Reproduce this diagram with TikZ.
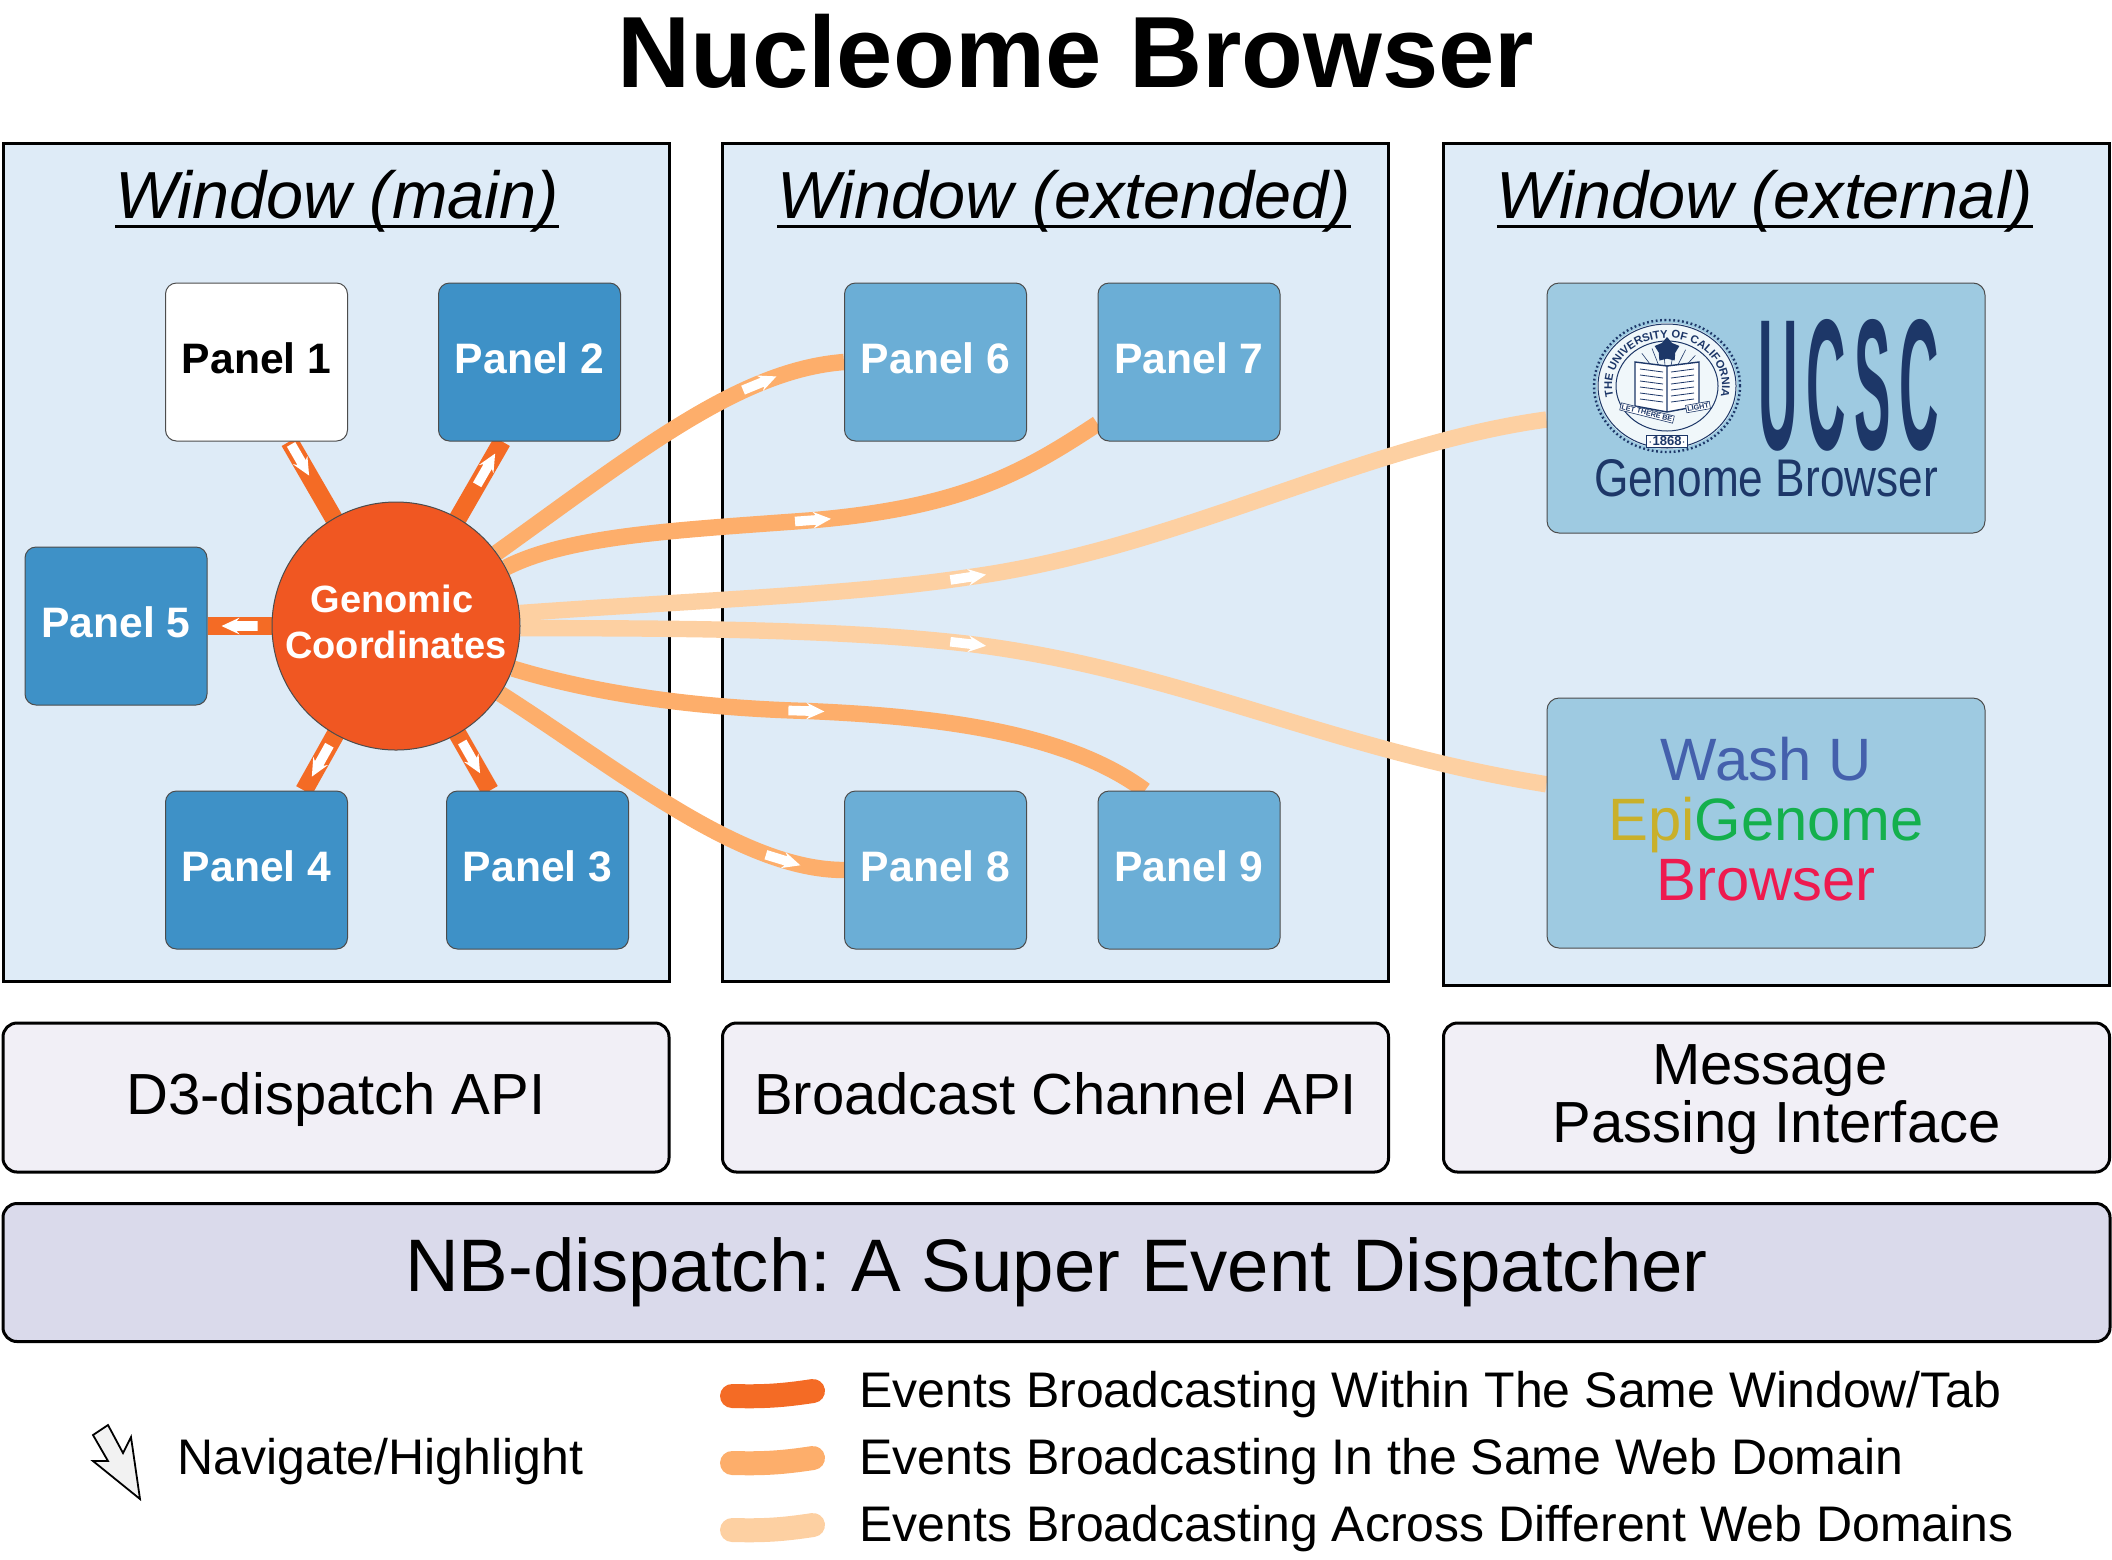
\documentclass[tikz,border=0pt]{standalone}
\usepackage{fontspec}
\usepackage{graphicx}
\setmainfont{Liberation Sans}
\usetikzlibrary{shapes.geometric,backgrounds,calc,decorations.text}

\definecolor{winblue}{HTML}{DEEBF7}
\definecolor{paneldark}{HTML}{3E91C7}
\definecolor{panelmid}{HTML}{6BAED6}
\definecolor{panellight}{HTML}{9ECAE1}
\definecolor{hubred}{HTML}{F05722}
\definecolor{flowdark}{HTML}{F46B25}
\definecolor{flowmid}{HTML}{FDAE6B}
\definecolor{flowlight}{HTML}{FDD0A2}
\definecolor{apibox}{HTML}{F1EFF6}
\definecolor{nbbox}{HTML}{DADAEB}
\definecolor{ucscblue}{HTML}{1D3768}

\newlength{\winlinewd}
\newcommand{\winlabel}[1]{\settowidth{\winlinewd}{#1}\rlap{\rule[-4.8pt]{\winlinewd}{1.2pt}}#1}
\frenchspacing

\begin{document}
\begin{tikzpicture}[x=0.5pt,y=-0.5pt,
            window/.style={rectangle,draw=black,line width=1.5pt,fill=winblue,
              minimum width=333pt,inner sep=0pt},
            wintitle/.style={inner sep=0pt,font=\fontsize{33.3}{36}\selectfont\itshape},
            panel/.style={rectangle,rounded corners=5.5pt,draw=black!70,line width=0.5pt,
              minimum width=91pt,minimum height=79pt,inner sep=0pt,text depth=4pt,text=white,
              font=\fontsize{21.3}{24}\selectfont\bfseries},
            browserbox/.style={rectangle,rounded corners=6pt,draw=black!70,line width=0.5pt,
              fill=panellight,minimum width=219pt,inner sep=0pt},
            apinode/.style={rectangle,rounded corners=7pt,draw=black,line width=1.5pt,fill=apibox,
              minimum width=333pt,minimum height=74.5pt,inner sep=0pt,
              font=\fontsize{29}{29}\selectfont},
            legendtext/.style={anchor=west,inner sep=0pt,font=\fontsize{25}{28}\selectfont},
            spoke/.style={flowdark,line width=9pt},
            midflow/.style={flowmid,line width=8.2pt},
            farflow/.style={flowlight,line width=8.2pt},
            swatch/.style={line width=12pt,line cap=round},
            markat/.style={pos=#1,sloped,allow upside down},
            flowmark/.pic={
              \fill[white] (-9pt,-2.4pt) -- (1.5pt,-2.4pt) -- (0pt,-4.2pt) -- (9pt,0pt)
                -- (0pt,4.2pt) -- (1.5pt,2.4pt) -- (-9pt,2.4pt) -- cycle;
            }]
 \useasboundingbox (0,0) rectangle (2112,1559);

 \node[inner sep=0pt,font=\fontsize{50.6}{54}\selectfont\bfseries] (title) at (1076,51) {Nucleome Browser};

 % windows
 \begin{scope}[on background layer]
   \node[window,minimum height=419pt] (winmain) at (336,562) {};
   \node[window,minimum height=419pt] (winext) at (1055.5,562) {};
   \node[window,minimum height=421pt] (winout) at (1776.5,564) {};
 \end{scope}
 \node[wintitle] (titlemain) at (337,201) {\winlabel{Window (main)}};
 \node[wintitle] (titleext) at (1064,201) {\winlabel{Window (extended)}};
 \node[wintitle] (titleout) at (1765,201) {\winlabel{Window (external)}};

 % panels
 \node[panel,fill=white,text=black] (panel1) at (256.5,362) {Panel 1};
 \node[panel,fill=paneldark] (panel2) at (529.5,362) {Panel 2};
 \node[panel,fill=paneldark] (panel3) at (537.5,870) {Panel 3};
 \node[panel,fill=paneldark] (panel4) at (256.5,870) {Panel 4};
 \node[panel,fill=paneldark] (panel5) at (116,626) {Panel 5};
 \node[panel,fill=panelmid] (panel6) at (935.5,362) {Panel 6};
 \node[panel,fill=panelmid] (panel7) at (1189,362) {Panel 7};
 \node[panel,fill=panelmid] (panel8) at (935.5,870) {Panel 8};
 \node[panel,fill=panelmid] (panel9) at (1189,870) {Panel 9};

 \node[circle,draw=black!70,line width=0.5pt,fill=hubred,minimum size=124pt,inner sep=0pt,
   text=white,align=center,font=\fontsize{19}{23}\selectfont\bfseries] (hub) at (396,626)
   {Genomic\hspace*{4pt}\\Coordinates\\[-19pt]\mbox{}};

 % browsers
 \node[browserbox,minimum height=125pt] (ucsc) at (1766,408) {};
 \node[inner sep=0pt,text=ucscblue] (ucscname) at (1848.5,385)
   {\resizebox{90.5pt}{65pt}{\bfseries U\hspace{.16em}C\hspace{.16em}S\hspace{.16em}C}};
 \node[inner sep=0pt,text=ucscblue] (ucscsub) at (1766,478)
   {\resizebox{172pt}{18.5pt}{Genome Browser}};

 % seal
 \begin{scope}[shift={(1667,386)},y=0.5pt]
   \fill[white!85!panellight] (0,0) ellipse [x radius=70,y radius=63];
   \draw[ucscblue,line width=1.2pt,dash pattern=on 0.9pt off 1.3pt] (0,0) ellipse [x radius=73,y radius=66];
   \draw[ucscblue,line width=0.5pt] (0,0) ellipse [x radius=69,y radius=62];
   \draw[ucscblue,line width=0.5pt] (0,0) ellipse [x radius=51,y radius=45];
   \path[decorate,decoration={text along path,text align=center,
       text={|\fontsize{5.6}{6}\selectfont\bfseries\color{ucscblue}|THE UNIVERSITY OF CALIFORNIA}}]
     (228:55 and 48) arc [start angle=228,end angle=-48,x radius=55,y radius=48];
   \foreach \ang in {50,65,...,130} \draw[ucscblue,line width=0.3pt] (\ang:20 and 18) -- (\ang:44 and 40);
   \node[star,star points=5,fill=ucscblue,inner sep=0pt,minimum size=13pt] (sealstar) at (0,36) {};
   \fill[white] (-32,24) -- (0,20) -- (32,24) -- (32,-20) -- (0,-26) -- (-32,-20) -- cycle;
   \draw[ucscblue,line width=0.7pt] (-32,24) -- (0,20) -- (32,24) -- (32,-20) -- (0,-26) -- (-32,-20) -- cycle (0,20) -- (0,-26);
   \foreach \row in {14,8,...,-16} {
     \draw[ucscblue,line width=0.4pt] (-27,\row+3) -- (-4,\row);
     \draw[ucscblue,line width=0.4pt] (4,\row) -- (27,\row+3);
   }
   \node[fill=white,draw=ucscblue,line width=0.3pt,inner sep=0.6pt,rotate=-14,text=ucscblue,
     font=\fontsize{3.6}{4}\selectfont\bfseries] (sealbannerl) at (-20,-27) {LET THERE BE};
   \node[fill=white,draw=ucscblue,line width=0.3pt,inner sep=0.6pt,rotate=10,text=ucscblue,
     font=\fontsize{3.6}{4}\selectfont\bfseries] (sealbannerr) at (31,-21) {LIGHT};
   \node[fill=white,draw=ucscblue,line width=0.3pt,inner sep=0.8pt,text=ucscblue,
     font=\fontsize{6.5}{7}\selectfont\bfseries] (sealyear) at (0,-55) {$\cdot$1868$\cdot$};
 \end{scope}

 \node[browserbox,minimum height=125pt,align=center,font=\fontsize{29.9}{30}\selectfont] (washu) at (1766,823)
   {\textcolor[HTML]{4460AC}{Wash U}\\\textcolor[HTML]{C9B02A}{Epi}\textcolor[HTML]{14B04C}{Genome}\\\textcolor[HTML]{EE1A4F}{Browser}\\[-26pt]\mbox{}};

 % flows
 \begin{scope}[on background layer]
   \draw[spoke] ($(panel1.south west)!.68!(panel1.south east)$) -- (hub.center) pic[markat=.1] {flowmark};
   \draw[spoke] (hub.center) -- ($(panel2.south west)!.35!(panel2.south east)$) pic[markat=.85] {flowmark};
   \draw[spoke] (hub.center) -- ($(panel3.north west)!.24!(panel3.north east)$) pic[markat=.8] {flowmark};
   \draw[spoke] (hub.center) -- ($(panel4.north west)!.76!(panel4.north east)$) pic[markat=.82] {flowmark};
   \draw[spoke] (hub.center) -- (panel5.east) pic[markat=.83] {flowmark};

   \draw[midflow] (hub.36) .. controls (640,450) and (740,370) .. (panel6.west) pic[markat=.73] {flowmark};
   \draw[midflow] (hub.28) .. controls (570,535) and (680,530) .. (815,520) pic[markat=.995] {flowmark}
     .. controls (960,507) and (1020,475) .. (panel7.214);
   \draw[farflow] (hub.6) .. controls (700,600) and (850,595) .. (970,577) pic[markat=.995] {flowmark}
     .. controls (1180,548) and (1360,445) .. (ucsc.183);
   \draw[farflow] (hub.-1) .. controls (700,628) and (850,630) .. (970,644) pic[markat=.995] {flowmark}
     .. controls (1180,670) and (1330,750) .. (washu.170);
   \draw[midflow] (hub.-20) .. controls (600,695) and (700,708) .. (808,711) pic[markat=.995] {flowmark}
     .. controls (950,717) and (1070,735) .. (panel9.119);
   \draw[midflow] (hub.-33) .. controls (620,770) and (740,870) .. (panel8.west) pic[markat=.81] {flowmark};
 \end{scope}

 % api boxes
 \node[apinode,text height=22.3pt,text depth=5.5pt] (apimain) at (336,1097.5) {D3-dispatch API};
 \node[apinode,text height=22.3pt,text depth=5.5pt] (apiext) at (1055.5,1097.5) {Broadcast Channel API};
 \node[apinode,align=center] (apiout) at (1776.5,1097.5) {Message\hspace*{6.8pt}\\Passing Interface\\[-25pt]\mbox{}};
 \node[rectangle,rounded corners=7pt,draw=black,line width=1.5pt,fill=nbbox,minimum width=1053.5pt,
   minimum height=69pt,inner sep=0pt,font=\fontsize{37.2}{40}\selectfont] (nbbar) at (1056.5,1272.5)
   {NB-dispatch: A Super Event Dispatcher};

 % legend
 \draw[line width=0.9pt,fill=black!5,line join=miter] (108,1425) -- (93,1435) -- (108,1461) -- (93,1461)
   -- (140,1499) -- (131,1437) -- (123,1453) -- cycle;
 \node[legendtext] (navtext) at (177,1462) {Navigate/Highlight};

 \coordinate (swatchAa) at (732,1396);
 \coordinate (swatchAb) at (813,1391);
 \coordinate (swatchBa) at (732,1463);
 \coordinate (swatchBb) at (813,1458);
 \coordinate (swatchCa) at (732,1530);
 \coordinate (swatchCb) at (813,1525);
 \draw[swatch,flowdark] (swatchAa) to[bend right=5] (swatchAb);
 \draw[swatch,flowmid] (swatchBa) to[bend right=5] (swatchBb);
 \draw[swatch,flowlight] (swatchCa) to[bend right=5] (swatchCb);
 \node[legendtext] (legenda) at (859,1395) {Events Broadcasting Within The Same Window/Tab};
 \node[legendtext] (legendb) at (859,1462) {Events Broadcasting In the Same Web Domain};
 \node[legendtext] (legendc) at (859,1529) {Events Broadcasting Across Different Web Domains};
\end{tikzpicture}
\end{document}
